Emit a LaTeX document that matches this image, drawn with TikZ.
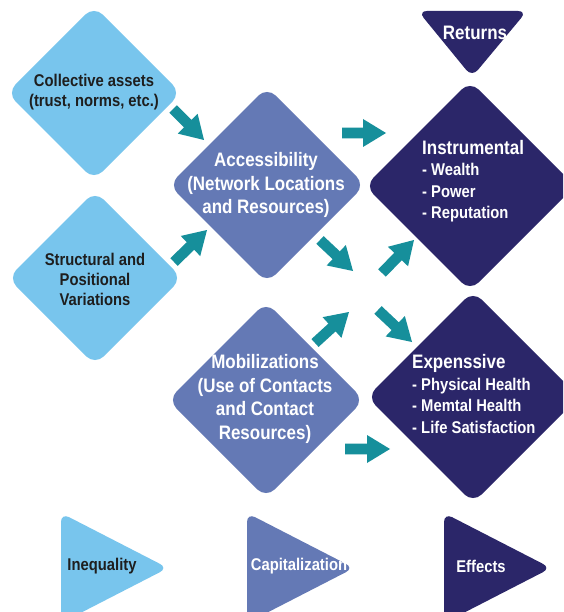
\documentclass[tikz,border=0pt]{standalone}
\usepackage{fontspec}
\setmainfont{Liberation Sans}[FakeStretch=0.87]
\usetikzlibrary{shapes.geometric,calc}
\definecolor{lblue}{RGB}{120,197,237}
\definecolor{mblue}{RGB}{100,121,181}
\definecolor{navy}{RGB}{43,38,105}
\definecolor{teal2}{RGB}{22,143,155}
\definecolor{dtext}{RGB}{30,30,30}
\newcommand\blockarr[2]{%
  \coordinate (bh) at ($(#2)!23pt!(#1)$);
  \fill[teal2] ($(#1)!5.3pt!90:(#2)$) -- ($(bh)!5.3pt!90:(#2)$) -- ($(bh)!14pt!90:(#2)$) -- (#2)
    -- ($(bh)!14pt!-90:(#2)$) -- ($(bh)!5.3pt!-90:(#2)$) -- ($(#1)!5.3pt!-90:(#2)$) -- cycle;}
\begin{document}
\begin{tikzpicture}[x=1pt,y=-1pt,
  dia/.style={diamond, inner sep=0pt, outer sep=0pt, rounded corners=12pt, minimum width=#1, minimum height=#1},
  tri/.style={rounded corners=9pt},
  ktext/.style={text=dtext, font=\bfseries\fontsize{17}{20}\selectfont, align=center, inner sep=0pt},
  wbig/.style={text=white, font=\bfseries\fontsize{19.5}{23.5}\selectfont, align=center, inner sep=0pt},
  wlist/.style={text=white, font=\bfseries\fontsize{17}{21.5}\selectfont, align=left, inner sep=0pt, anchor=west},
  lab/.style={font=\bfseries\fontsize{17}{20}\selectfont, inner sep=0pt}]
\useasboundingbox (0,0) rectangle (563,612);
\fill[white] (0,0) rectangle (563,612);
\clip (0,0) rectangle (563,612);

% diamonds
\node[dia=174, fill=lblue] (coll) at (94,93) {};
\node[dia=174, fill=lblue] (struc) at (95,278) {};
\node[dia=196, fill=mblue] (acc) at (267,185) {};
\node[dia=196, fill=mblue] (mob) at (266,400) {};
\node[dia=210, fill=navy] (instr) at (470,186) {};
\node[dia=212, fill=navy] (expe) at (473,397) {};

% triangles
\fill[navy, tri] (418,11) -- (527,11) -- (472,77) -- cycle;
\fill[lblue, tri] (61,513) -- (168,568) -- (61,623) -- cycle;
\fill[mblue, tri] (247,513) -- (354,568) -- (247,623) -- cycle;
\fill[navy, tri] (444,513) -- (551,568) -- (444,623) -- cycle;

% texts
\node[ktext] (collt) at (94,92) {Collective assets\\(trust, norms, etc.)};
\node[ktext] (struct) at (95,279) {Structural and\\Positional\\Variations};
\node[wbig] (acct) at (266,185) {Accessibility\\(Network Locations\\and Resources)};
\node[wbig] (mobt) at (265,399) {Mobilizations\\(Use of Contacts\\and Contact\\Resources)};
\node[wlist] (instrt) at (422,181) {{\fontsize{19.5}{23.5}\selectfont Instrumental}\\- Wealth\\- Power\\- Reputation};
\node[wlist] (expet) at (412,394) {{\fontsize{19.5}{23.5}\selectfont Expenssive}\\- Physical Health\\- Memtal Health\\- Life Satisfaction};
\node[wbig] (ret) at (475,33) {Returns};
\node[lab, text=dtext] (ineq) at (102,566) {Inequality};
\node[lab, text=white] (capi) at (299,566) {Capitalization};
\node[lab, text=white] (effe) at (481,566) {Effects};

% arrows
\coordinate (a1t) at (173,109); \coordinate (a1h) at (204,140);
\coordinate (a2t) at (174,262); \coordinate (a2h) at (207,230);
\coordinate (a3t) at (342,133); \coordinate (a3h) at (386,133);
\coordinate (a4t) at (320,240); \coordinate (a4h) at (353,271);
\coordinate (a5t) at (382,273); \coordinate (a5h) at (414,240);
\coordinate (a6t) at (315,343); \coordinate (a6h) at (349,312);
\coordinate (a7t) at (378,310); \coordinate (a7h) at (412,342);
\coordinate (a8t) at (345,449); \coordinate (a8h) at (390,449);
\blockarr{a1t}{a1h}
\blockarr{a2t}{a2h}
\blockarr{a3t}{a3h}
\blockarr{a4t}{a4h}
\blockarr{a5t}{a5h}
\blockarr{a6t}{a6h}
\blockarr{a7t}{a7h}
\blockarr{a8t}{a8h}
\end{tikzpicture}
\end{document}
